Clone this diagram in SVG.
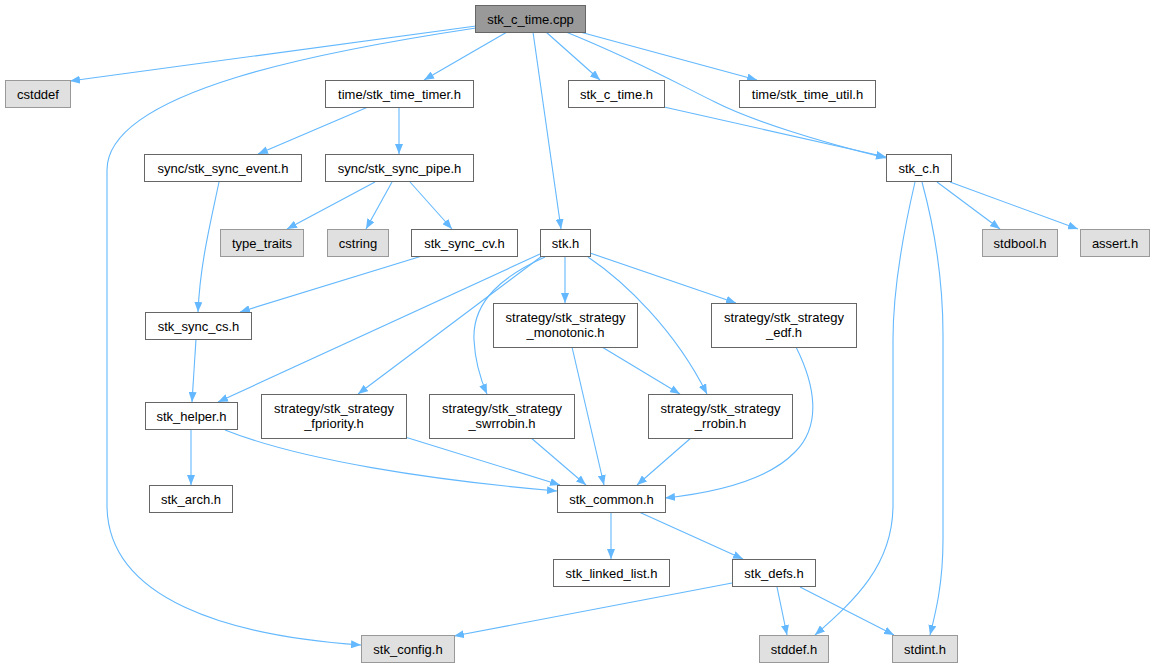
<svg xmlns="http://www.w3.org/2000/svg" width="1154" height="667" viewBox="0 0 1154 667">
<defs>
<marker id="arr" viewBox="0 0 10 8" refX="10" refY="4" markerWidth="10" markerHeight="8" markerUnits="userSpaceOnUse" orient="auto">
<path d="M0,0 L10,4 L0,8 z" fill="#63b8ff"/>
</marker>
<style>
.n rect{fill:#ffffff;stroke:#666666;stroke-width:1}
.g rect{fill:#e0e0e0;stroke:#999999;stroke-width:1}
.r rect{fill:#999999;stroke:#666666;stroke-width:1}
text{font-family:"Liberation Sans",Arial,sans-serif;font-size:13px;fill:#000;text-anchor:middle}
#edges path{fill:none;stroke:#63b8ff;stroke-width:1.1;marker-end:url(#arr)}
</style>
</defs>
<rect width="1154" height="667" fill="#ffffff"/>
<g id="edges">
<path d="M476,26 L70,81"/>
<path d="M476,28 C330,50 107,90 107,170 V505 C107,600 230,636 361,645"/>
<path d="M507,32 L424,80"/>
<path d="M533,32 L561,229"/>
<path d="M546,32 L600,80"/>
<path d="M566,32 C640,62 680,85 715,102 C750,120 820,142 886,158"/>
<path d="M580,32 L757,80"/>
<path d="M664,107 L886,157"/>
<path d="M368,107 L258,154"/>
<path d="M399,107 V154"/>
<path d="M375,182 L287,229"/>
<path d="M392,182 L366,229"/>
<path d="M410,182 L452,229"/>
<path d="M219,182 C210,225 200,265 198,312"/>
<path d="M422,256 L240,312"/>
<path d="M196,339 L192,402"/>
<path d="M540,254 L218,402"/>
<path d="M542,256 L358,394"/>
<path d="M545,257 C505,275 472,300 474,340 C475,360 480,378 487,394"/>
<path d="M565,256 V303"/>
<path d="M588,257 C625,282 675,330 707,394"/>
<path d="M590,253 L736,303"/>
<path d="M572,347 L604,485"/>
<path d="M602,347 L680,394"/>
<path d="M796,347 C815,385 822,425 795,452 C770,478 720,492 665,498"/>
<path d="M225,430 C300,460 430,480 557,491"/>
<path d="M405,437 L560,485"/>
<path d="M530,437 L586,485"/>
<path d="M692,437 L637,485"/>
<path d="M191,429 V485"/>
<path d="M611,512 V559"/>
<path d="M639,512 L743,559"/>
<path d="M732,583 L454,636"/>
<path d="M777,587 L787,635"/>
<path d="M800,587 L894,635"/>
<path d="M915,182 C905,225 893,285 893,340 V505 C893,565 855,600 815,635"/>
<path d="M922,182 C935,230 943,285 943,335 V540 C943,585 935,615 930,635"/>
<path d="M937,182 L1000,229"/>
<path d="M950,182 L1078,229"/>
</g>
<g id="n_cpp" class="r"><rect x="475.5" y="5.5" width="110" height="27"/><text x="530.5" y="23.5">stk_c_time.cpp</text></g>
<g id="n_cstddef" class="g"><rect x="5.5" y="80.5" width="65" height="27"/><text x="38" y="98.5">cstddef</text></g>
<g id="n_timer" class="n"><rect x="325.5" y="80.5" width="148" height="27"/><text x="399.5" y="98.5">time/stk_time_timer.h</text></g>
<g id="n_ctime" class="n"><rect x="568.5" y="80.5" width="96" height="27"/><text x="616.5" y="98.5">stk_c_time.h</text></g>
<g id="n_util" class="n"><rect x="739.5" y="80.5" width="136" height="27"/><text x="807.5" y="98.5">time/stk_time_util.h</text></g>
<g id="n_event" class="n"><rect x="144.5" y="154.5" width="157" height="27"/><text x="223" y="172.5">sync/stk_sync_event.h</text></g>
<g id="n_pipe" class="n"><rect x="325.5" y="154.5" width="148" height="27"/><text x="399.5" y="172.5">sync/stk_sync_pipe.h</text></g>
<g id="n_stkc" class="n"><rect x="886.5" y="154.5" width="65" height="27"/><text x="919" y="172.5">stk_c.h</text></g>
<g id="n_traits" class="g"><rect x="220.5" y="229.5" width="83" height="27"/><text x="262" y="247.5">type_traits</text></g>
<g id="n_cstring" class="g"><rect x="327.5" y="229.5" width="61" height="27"/><text x="358" y="247.5">cstring</text></g>
<g id="n_cv" class="n"><rect x="411.5" y="229.5" width="106" height="27"/><text x="464.5" y="247.5">stk_sync_cv.h</text></g>
<g id="n_stk" class="n"><rect x="540.5" y="229.5" width="50" height="27"/><text x="565.5" y="247.5">stk.h</text></g>
<g id="n_stdbool" class="g"><rect x="982.5" y="229.5" width="75" height="27"/><text x="1020" y="247.5">stdbool.h</text></g>
<g id="n_assert" class="g"><rect x="1080.5" y="229.5" width="69" height="27"/><text x="1115" y="247.5">assert.h</text></g>
<g id="n_cs" class="n"><rect x="145.5" y="312.5" width="106" height="27"/><text x="198.5" y="330.5">stk_sync_cs.h</text></g>
<g id="n_mono" class="n"><rect x="493.5" y="303.5" width="144" height="44"/><text x="565.5" y="321.5">strategy/stk_strategy</text><text x="565.5" y="337">_monotonic.h</text></g>
<g id="n_edf" class="n"><rect x="711.5" y="303.5" width="145" height="44"/><text x="784" y="321.5">strategy/stk_strategy</text><text x="784" y="337">_edf.h</text></g>
<g id="n_helper" class="n"><rect x="145.5" y="402.5" width="92" height="27"/><text x="191.5" y="420.5">stk_helper.h</text></g>
<g id="n_fprio" class="n"><rect x="261.5" y="394.5" width="145" height="44"/><text x="334" y="412.5">strategy/stk_strategy</text><text x="334" y="428">_fpriority.h</text></g>
<g id="n_swrr" class="n"><rect x="429.5" y="394.5" width="145" height="44"/><text x="502" y="412.5">strategy/stk_strategy</text><text x="502" y="428">_swrrobin.h</text></g>
<g id="n_rr" class="n"><rect x="648.5" y="394.5" width="144" height="44"/><text x="720.5" y="412.5">strategy/stk_strategy</text><text x="720.5" y="428">_rrobin.h</text></g>
<g id="n_arch" class="n"><rect x="149.5" y="485.5" width="83" height="27"/><text x="191" y="503.5">stk_arch.h</text></g>
<g id="n_common" class="n"><rect x="557.5" y="485.5" width="108" height="27"/><text x="611.5" y="503.5">stk_common.h</text></g>
<g id="n_list" class="n"><rect x="553.5" y="559.5" width="116" height="27"/><text x="611.5" y="577.5">stk_linked_list.h</text></g>
<g id="n_defs" class="n"><rect x="732.5" y="559.5" width="83" height="27"/><text x="774" y="577.5">stk_defs.h</text></g>
<g id="n_config" class="g"><rect x="361.5" y="635.5" width="93" height="27"/><text x="408" y="653.5">stk_config.h</text></g>
<g id="n_stddef" class="g"><rect x="759.5" y="635.5" width="69" height="27"/><text x="794" y="653.5">stddef.h</text></g>
<g id="n_stdint" class="g"><rect x="892.5" y="635.5" width="65" height="27"/><text x="925" y="653.5">stdint.h</text></g>
</svg>
